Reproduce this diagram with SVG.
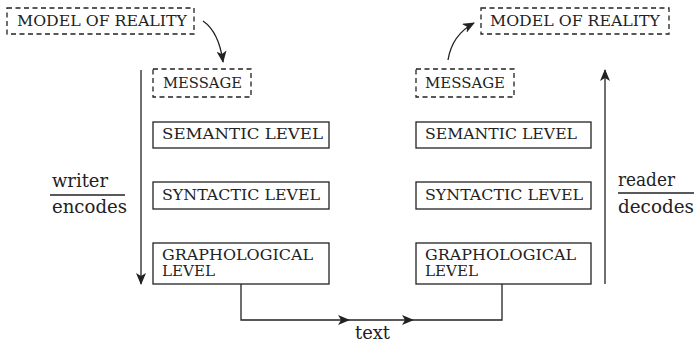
<svg xmlns="http://www.w3.org/2000/svg" width="695" height="345" viewBox="0 0 695 345">
<style>
.box{fill:#fff;stroke:#222;stroke-width:1.3}
.dash{fill:#fff;stroke:#222;stroke-width:1.3;stroke-dasharray:5 3.5}
.cap{font-family:"DejaVu Serif","Liberation Serif",serif;font-size:14px;fill:#222}
.lbl{font-family:"DejaVu Serif","Liberation Serif",serif;font-size:18px;fill:#222}
.ln{fill:none;stroke:#222;stroke-width:1.3}
</style>
<defs>
<marker id="ah" viewBox="0 0 12 10" refX="11" refY="5" markerWidth="12" markerHeight="10" markerUnits="userSpaceOnUse" orient="auto">
<path d="M0,0 L12,5 L0,10 L3,5 z" fill="#222"/>
</marker>
</defs>
<g id="model-left"><rect class="dash" x="7" y="8" width="187" height="26"/><text class="cap" x="17" y="26" textLength="170" lengthAdjust="spacingAndGlyphs">MODEL OF REALITY</text></g>
<g id="message-left"><rect class="dash" x="153" y="69" width="98" height="28"/><text class="cap" x="163" y="88" textLength="79" lengthAdjust="spacingAndGlyphs">MESSAGE</text></g>
<g id="semantic-left"><rect class="box" x="153" y="122" width="176" height="26"/><text class="cap" x="162" y="139" textLength="161" lengthAdjust="spacingAndGlyphs">SEMANTIC LEVEL</text></g>
<g id="syntactic-left"><rect class="box" x="153" y="182" width="176" height="27"/><text class="cap" x="162" y="200" textLength="158" lengthAdjust="spacingAndGlyphs">SYNTACTIC LEVEL</text></g>
<g id="graph-left"><rect class="box" x="153" y="243" width="176" height="41"/><text class="cap" x="162" y="260" textLength="151" lengthAdjust="spacingAndGlyphs">GRAPHOLOGICAL</text><text class="cap" x="162" y="276" textLength="53" lengthAdjust="spacingAndGlyphs">LEVEL</text></g>
<g id="model-right"><rect class="dash" x="481" y="8" width="188" height="26"/><text class="cap" x="490" y="26" textLength="170" lengthAdjust="spacingAndGlyphs">MODEL OF REALITY</text></g>
<g id="message-right"><rect class="dash" x="416" y="69" width="98" height="28"/><text class="cap" x="425" y="88" textLength="80" lengthAdjust="spacingAndGlyphs">MESSAGE</text></g>
<g id="semantic-right"><rect class="box" x="416" y="122" width="175" height="26"/><text class="cap" x="425" y="139" textLength="152" lengthAdjust="spacingAndGlyphs">SEMANTIC LEVEL</text></g>
<g id="syntactic-right"><rect class="box" x="416" y="182" width="175" height="27"/><text class="cap" x="425" y="200" textLength="158" lengthAdjust="spacingAndGlyphs">SYNTACTIC LEVEL</text></g>
<g id="graph-right"><rect class="box" x="416" y="243" width="175" height="41"/><text class="cap" x="425" y="260" textLength="151" lengthAdjust="spacingAndGlyphs">GRAPHOLOGICAL</text><text class="cap" x="425" y="276" textLength="53" lengthAdjust="spacingAndGlyphs">LEVEL</text></g>
<g id="writer"><text class="lbl" x="52" y="187" textLength="56" lengthAdjust="spacingAndGlyphs">writer</text><line class="ln" x1="50" y1="195" x2="125" y2="195"/><text class="lbl" x="52" y="213" textLength="75" lengthAdjust="spacingAndGlyphs">encodes</text></g>
<g id="reader"><text class="lbl" x="618" y="186" textLength="57" lengthAdjust="spacingAndGlyphs">reader</text><line class="ln" x1="618" y1="193" x2="694" y2="193"/><text class="lbl" x="618" y="213" textLength="76" lengthAdjust="spacingAndGlyphs">decodes</text></g>
<g id="text-label"><text class="lbl" x="355" y="339" textLength="35" lengthAdjust="spacingAndGlyphs">text</text></g>
<g id="connectors">
<path class="ln" d="M203,21 Q219,32 223,62" marker-end="url(#ah)"/>
<path class="ln" d="M448,60 Q452,35 474,23" marker-end="url(#ah)"/>
<line class="ln" x1="141" y1="70" x2="141" y2="284" marker-end="url(#ah)"/>
<line class="ln" x1="605" y1="284" x2="605" y2="70" marker-end="url(#ah)"/>
<path class="ln" d="M241,284 V320 H349" marker-end="url(#ah)"/>
<path class="ln" d="M349,320 H413" marker-end="url(#ah)"/>
<path class="ln" d="M413,320 H502 V284"/>
</g>
</svg>
